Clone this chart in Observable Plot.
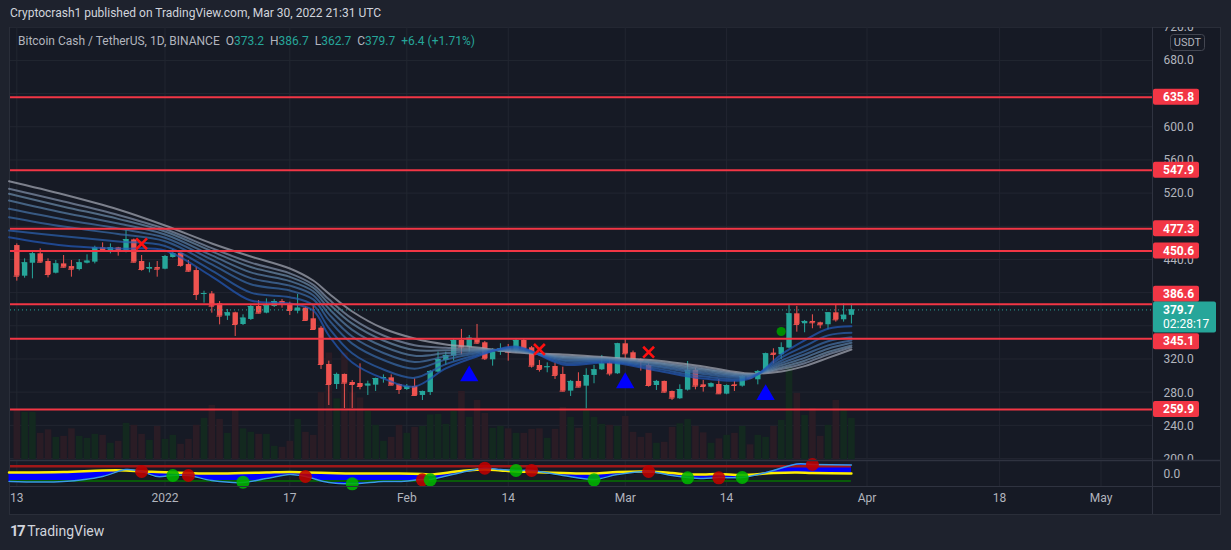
<!DOCTYPE html>
<html><head><meta charset="utf-8">
<script src="https://cdn.jsdelivr.net/npm/d3@7"></script>
<script src="https://cdn.jsdelivr.net/npm/@observablehq/plot@0.6"></script>
<style>
html,body{margin:0;padding:0;background:#1e222d;}
#wrap{position:relative;width:1231px;height:550px;overflow:hidden;background:#1e222d;font-family:Roboto,"Liberation Sans",sans-serif;}
#chartbg{position:absolute;left:9px;top:27px;width:1212px;height:488px;box-sizing:border-box;background:#161a25;border:1px solid #2a2e39;}
.layer{position:absolute;left:0;top:0;}
#header{position:absolute;left:0;top:0;width:1231px;height:27px;background:#1e222d;z-index:5;}
#header span{position:absolute;left:10px;top:6px;font-size:12px;color:#d1d4dc;white-space:pre;}
#legend{position:absolute;left:18px;top:34px;font-size:12px;color:#b2b5be;white-space:pre;z-index:4;}
#legend .v{color:#26a69a;}
#footer{position:absolute;left:10px;top:521px;height:20px;color:#d1d4dc;z-index:4;white-space:pre;}
#footer .logo{font-weight:bold;font-size:15px;letter-spacing:-1.5px;}
#footer .name{font-size:14px;margin-left:3px;}
</style></head>
<body>
<div id="wrap">
  <div id="chartbg"></div>
  <div id="header"><span>Cryptocrash1 published on TradingView.com, Mar 30, 2022 21:31 UTC</span></div>
  <div id="legend"></div>
  <div id="footer"><span class="logo">17</span><span class="name">TradingView</span></div>
</div>
<script>
// ---------------- data ----------------
const firstDay = "2021-12-13";
const opens = [457.2,420.3,435.9,447.2,438.0,423.9,435.1,431.9,428.3,435.9,
437.2,454.4,450.4,454.4,450.4,464.0,438.0,428.7,430.7,428.7,
442.8,447.6,434.3,427.1,398.6,399.0,387.0,372.2,376.2,362.1,
368.2,383.8,375.8,383.8,389.8,387.0,378.2,381.8,369.0,357.7,
314.0,289.9,302.0,292.3,291.1,287.9,289.1,296.7,297.9,289.9,
283.9,287.5,276.7,280.3,304.8,318.8,324.1,342.9,334.9,344.9,
340.1,319.6,328.9,332.9,330.1,342.9,334.1,312.8,310.4,311.6,
302.0,281.9,293.6,287.9,300.8,307.6,315.6,302.8,338.9,328.1,
319.6,312.8,288.7,293.6,281.5,272.7,283.1,306.8,289.5,286.7,
289.9,278.3,289.5,287.9,300.0,295.6,304.8,327.7,325.7,333.7,
375.0,363.0,365.8,364.2,361.8,376.2,367.8,373.2];
const highs = [459.2,441.2,449.2,453.2,441.2,439.2,445.2,439.2,440.4,446.0,
456.4,460.4,459.2,455.0,475.3,465.0,445.2,436.4,438.0,445.2,
452.4,448.0,439.2,431.1,402.2,401.8,389.8,380.2,377.0,373.8,
385.0,391.0,393.0,392.2,392.2,389.0,398.3,383.0,384.2,359.7,
318.0,303.6,302.5,294.7,314.8,293.9,297.5,301.5,301.5,290.3,
289.9,296.7,282.0,306.8,328.9,328.9,344.9,356.2,348.9,362.2,
341.7,332.9,338.9,338.1,344.1,344.1,335.7,318.8,316.0,315.6,
310.8,294.8,304.0,308.8,312.8,324.9,320.8,339.5,344.1,330.1,
320.8,314.8,294.8,294.0,282.0,289.5,317.6,309.6,294.8,291.9,
295.9,289.5,293.6,300.8,300.8,306.8,327.7,332.9,340.1,385.9,
383.9,367.0,373.8,365.0,376.5,385.1,387.1,386.7];
const lows = [414.3,417.9,417.1,436.0,418.3,423.0,430.0,419.1,426.7,435.1,
435.1,449.2,447.2,444.4,448.4,436.0,426.3,424.3,419.1,428.0,
442.0,431.1,425.1,391.0,387.8,375.8,361.7,367.0,347.7,360.9,
367.0,375.0,375.0,382.6,381.8,373.0,375.0,365.8,355.0,308.0,
264.6,283.9,261.0,261.0,283.5,276.7,281.5,291.5,288.7,277.9,
282.7,275.5,270.6,276.7,304.0,312.8,318.0,325.7,328.9,338.1,
318.8,312.0,324.9,318.0,327.7,330.1,309.6,304.8,304.0,296.0,
281.0,275.5,286.0,260.6,290.8,306.8,300.0,302.0,320.8,318.0,
306.0,286.7,282.7,279.5,270.7,272.0,282.0,283.5,280.7,285.9,
277.9,277.5,281.5,286.7,296.0,289.5,304.0,314.8,320.0,333.0,
352.9,352.2,357.0,357.0,355.8,365.0,365.0,362.7];
const closes = [420.3,436.4,447.2,437.2,422.3,435.1,431.1,428.7,436.4,438.4,
454.4,450.4,454.4,451.2,464.4,437.2,428.3,430.7,428.7,444.0,
447.6,433.1,426.3,398.2,399.4,384.2,372.2,376.2,362.1,369.8,
383.8,375.8,385.0,389.8,386.2,379.0,381.8,367.0,356.1,314.0,
289.9,302.0,291.5,289.9,287.5,290.3,297.1,298.3,289.1,283.9,
287.5,276.7,281.5,305.6,320.0,324.9,342.9,334.9,345.7,339.7,
320.9,328.9,332.9,328.9,342.9,332.9,312.0,308.0,311.2,300.8,
281.9,293.6,286.7,300.8,307.6,314.8,302.8,338.9,326.9,318.8,
318.0,288.7,293.6,280.7,273.5,283.9,306.8,287.9,287.5,290.7,
278.7,288.7,288.7,299.6,297.6,305.6,326.9,326.1,334.1,375.0,
362.2,365.8,364.2,361.8,376.2,367.8,373.3,379.7];
// volume, thousand BCH (estimated)
const volumes = [99,95,95,53,60,45,47,62,47,43,
51,49,33,37,73,69,51,39,67,41,
49,31,41,69,83,109,81,53,99,62,
55,51,51,27,25,37,81,55,49,135,
214,122,214,135,124,97,69,37,45,69,
53,65,67,90,91,71,97,137,85,119,
93,63,67,62,53,53,61,62,43,61,
105,85,63,102,85,71,69,67,87,55,
45,53,33,35,65,72,81,67,54,33,
42,49,53,67,30,49,45,67,79,185,
133,89,103,47,69,119,102,83];

// horizontal support / resistance levels
const levels = [635.8, 547.9, 477.3, 450.6, 386.6, 345.1, 259.9];
const gridPrices = [200,240,280,320,360,400,440,480,520,560,600,640,680,720];
const priceTicks = [720,680,600,560,520,440,320,280,240,200];

// time axis
const tickDates = ["2021-12-13","2022-01-01","2022-01-17","2022-02-01","2022-02-14","2022-03-01","2022-03-14","2022-04-01","2022-04-18","2022-05-01"];
const tickLabels = ["13","2022","17","Feb","14","Mar","14","Apr","18","May"];

// EMA ribbon (read at sample dates), fast -> slow
const ribbonDates = ["2021-12-12","2021-12-19","2021-12-26","2022-01-01","2022-01-07","2022-01-12","2022-01-17","2022-01-20","2022-01-22","2022-01-25","2022-01-29","2022-02-02","2022-02-06","2022-02-10","2022-02-15","2022-02-21","2022-02-27","2022-03-05","2022-03-11","2022-03-17","2022-03-21","2022-03-24","2022-03-27","2022-03-30"];
const ribbon1 = [467.2,457.3,453.6,451.2,419.9,391.0,387.4,379.0,348.9,316.4,297.1,287.5,309.2,323.6,335.7,314.0,316.4,306.8,297.1,297.1,326.0,343.0,357.0,360.0];
const ribbon2 = [475.3,468.4,462.1,456.6,427.1,400.5,395.0,385.5,358.0,327.5,307.9,297.9,314.4,325.5,334.4,316.2,317.5,309.0,299.7,298.2,322.3,336.0,349.0,352.1];
const ribbon3 = [491.3,480.0,471.0,462.3,434.6,410.6,403.0,392.4,367.6,339.1,319.4,308.9,319.9,327.6,333.0,318.4,318.6,311.2,302.5,299.3,318.5,330.0,342.0,346.8];
const ribbon4 = [501.4,488.6,477.6,466.6,440.2,418.0,408.9,397.4,374.7,347.7,327.8,317.0,323.9,329.1,332.0,320.1,319.5,312.9,304.5,300.2,315.6,326.0,337.0,342.9];
const ribbon5 = [511.4,496.6,483.7,470.5,445.4,424.9,414.4,402.1,381.3,355.7,335.6,324.5,327.7,330.5,331.0,321.7,320.2,314.5,306.4,300.9,313.0,322.0,333.0,340.1];
const ribbon6 = [519.5,504.0,489.3,474.1,450.2,431.3,419.5,406.4,387.4,363.1,342.9,331.4,331.2,331.8,330.2,323.1,321.0,315.9,308.1,301.7,310.5,318.5,329.0,336.9];
const ribbon7 = [525.5,510.1,494.0,477.1,454.1,436.6,423.7,410.0,392.4,369.2,348.9,337.2,334.1,332.9,329.4,324.3,321.6,317.1,309.6,302.3,308.5,315.5,326.0,334.8];
const ribbon8 = [534.7,518.7,500.6,481.3,459.7,444.0,429.6,415.1,399.5,377.8,357.3,345.3,338.1,334.4,328.4,326.0,322.4,318.8,311.6,303.1,305.6,312.0,322.0,332.0];
const ribbonColors = ["#2259b8","#2b61b0","#3769a8","#4572a6","#577ea6","#6a89a8","#808fa7","#a3a8b4"];

// signal markers
const crossDates = ["2021-12-29","2022-02-18","2022-03-04"];
const crossPrices = [459.3, 332.1, 328.8];
const triangleDates = ["2022-02-09","2022-03-01","2022-03-19"];
const trianglePrices = [300.1, 291.8, 277.6];
const circleDates = ["2022-03-21"];
const circlePrices = [353.7];

// oscillator (read at sample dates)
const oscDates = ["2021-12-12","2021-12-19","2021-12-24","2021-12-27","2021-12-29","2021-12-31","2022-01-02","2022-01-04","2022-01-07","2022-01-11","2022-01-14","2022-01-17","2022-01-19","2022-01-22","2022-01-25","2022-01-29","2022-01-31","2022-02-03","2022-02-04","2022-02-08","2022-02-11","2022-02-13","2022-02-15","2022-02-17","2022-02-21","2022-02-25","2022-02-28","2022-03-04","2022-03-07","2022-03-09","2022-03-11","2022-03-13","2022-03-16","2022-03-20","2022-03-23","2022-03-25","2022-03-30"];
const oscFast = [-57.6,-57.6,-19.2,34.6,19.2,-19.2,-11.5,-11.5,-49.9,-65.3,-34.6,-3.8,-19.2,-65.3,-75.3,-57.6,-57.6,-42.2,-42.2,11.5,44.5,34.6,26.9,26.9,-11.5,-42.2,-3.8,19.2,-11.5,-26.9,-34.6,-26.9,-26.9,26.9,76.8,73.0,69.1];
const oscSlow = [11.5,15.4,26.9,26.9,19.2,15.4,11.5,7.7,3.8,7.7,11.5,15.4,11.5,7.7,3.8,3.8,3.8,0,-3.8,23.0,34.6,26.9,19.2,15.4,7.7,3.8,15.4,19.2,7.7,-3.8,-3.8,0,-7.7,7.7,11.5,7.7,3.8];
const oscDotDates = ["2021-12-29","2022-01-02","2022-01-04","2022-01-11","2022-01-19","2022-01-25","2022-02-03","2022-02-04","2022-02-11","2022-02-15","2022-02-17","2022-02-25","2022-03-04","2022-03-09","2022-03-13","2022-03-16","2022-03-25"];
const oscDotValues = [19.2,-11.5,-11.5,-63,-19.2,-75.3,-44.5,-44.5,44.5,26.9,26.9,-44.5,19.2,-29.2,-29.2,-26.9,73.0];
const oscDotKinds = ["down","up","down","up","down","up","down","up","down","up","down","up","down","up","down","up","down"];

// ---------------- build ----------------
const FONT = "Roboto, 'Liberation Sans', sans-serif";
const parse = d3.utcParse("%Y-%m-%d");
const dayMs = 864e5;
const start = parse(firstDay);
const xDomain = [new Date(+start - 0.81 * dayMs), new Date(+start + 145.6 * dayMs)];
const up = "#26a69a", down = "#ef5350";

const candles = opens.map((o, k) => ({
  date: d3.utcDay.offset(start, k), open: o, high: highs[k], low: lows[k], close: closes[k], volume: volumes[k]
}));
const colorOf = d => d.close >= d.open ? up : down;
const last = candles[candles.length - 1];
const prev = candles[candles.length - 2];

const ticks = tickDates.map((d, k) => ({date: parse(d), label: tickLabels[k]}));
const ribbons = [ribbon1, ribbon2, ribbon3, ribbon4, ribbon5, ribbon6, ribbon7, ribbon8];
const ribbonRows = [];
for (let k = ribbons.length - 1; k >= 0; k--) {
  ribbonDates.forEach((d, j) => ribbonRows.push({date: parse(d), value: ribbons[k][j], line: k}));
}
const crosses = crossDates.map((d, k) => ({date: parse(d), price: crossPrices[k]}));
const triangles = triangleDates.map((d, k) => ({date: parse(d), price: trianglePrices[k]}));
const circles = circleDates.map((d, k) => ({date: parse(d), price: circlePrices[k]}));
const osc = oscDates.map((d, k) => ({date: parse(d), fast: oscFast[k], slow: oscSlow[k]}));
const oscDots = oscDotDates.map((d, k) => ({date: parse(d), value: oscDotValues[k], kind: oscDotKinds[k]}));

const W = 1231, H = 550;
const common = {
  width: W, height: H, marginLeft: 10, marginRight: 79,
  style: {background: "transparent", fontFamily: FONT, fontSize: "12px", overflow: "visible"}
};
const xOpt = {type: "utc", domain: xDomain, axis: null};

// volume layer (with grid)
const volPlot = Plot.plot({
  ...common, marginTop: 27, marginBottom: 90.7,
  x: xOpt, y: {domain: [0, 866], axis: null},
  marks: [
    Plot.ruleY(gridPrices.map(p => (p - 198.4) / 521.3 * 866), {stroke: "#222631", strokeWidth: 1}),
    Plot.ruleX(ticks, {x: "date", stroke: "#222631", strokeWidth: 1}),
    Plot.ruleX(candles, {x: "date", y1: 0, y2: "volume", strokeWidth: 6.6,
      stroke: d => d.close >= d.open ? "#13291f" : "#2a1c25"})
  ]
});

// main price layer
const main = Plot.plot({
  ...common, marginTop: 27, marginBottom: 90,
  x: xOpt, y: {domain: [198.4, 719.7], axis: null},
  marks: [
    Plot.ruleX(candles, {x: "date", y1: "low", y2: "high", stroke: colorOf, strokeWidth: 1}),
    Plot.ruleX(candles, {x: "date", y1: "open", y2: "close", stroke: colorOf, strokeWidth: 5.4}),
    Plot.ruleY(candles, {y: "close", x1: d => new Date(+d.date - 0.35 * dayMs), x2: d => new Date(+d.date + 0.35 * dayMs), stroke: colorOf, strokeWidth: 1}),
    Plot.line(ribbonRows, {x: "date", y: "value", z: "line", stroke: d => ribbonColors[d.line],
      strokeWidth: 2, strokeOpacity: 0.72, curve: "catmull-rom"}),
    Plot.ruleY(levels, {stroke: "#f23645", strokeWidth: 2}),
    Plot.ruleY([last.close], {stroke: "#26a69a", strokeWidth: 1, strokeDasharray: "1,3"}),
    Plot.dot(crosses, {x: "date", y: "price", symbol: "times", r: 5, stroke: "#ff1010", strokeWidth: 2.6}),
    Plot.dot(triangles, {x: "date", y: "price", symbol: "triangle", r: 6.8, fill: "#0000ff", stroke: "none"}),
    Plot.dot(circles, {x: "date", y: "price", r: 4.6, fill: "#008c00", stroke: "none"}),
    Plot.text(priceTicks, {y: d => d, text: d => d.toFixed(1), frameAnchor: "right", dx: 11,
      textAnchor: "start", fill: "#b2b5be", fontSize: 12})
  ]
});

// oscillator layer + time axis
const oscPlot = Plot.plot({
  ...common, marginTop: 461, marginBottom: 64,
  x: xOpt, y: {domain: [-96, 96], axis: null},
  marks: [
    Plot.ruleX(ticks, {x: "date", stroke: "#222631", strokeWidth: 1}),
    Plot.areaY(osc, {x: "date", y1: "fast", y2: d => d.fast - 14, fill: "#000000", fillOpacity: 0.75, curve: "catmull-rom"}),
    Plot.areaY(osc, {x: "date", y1: "slow", y2: "fast", fill: "#0000ff", curve: "catmull-rom"}),
    Plot.ruleY([60], {x1: xDomain[0], x2: last.date, stroke: "#a01818", strokeWidth: 2.5}),
    Plot.ruleY([-53], {x1: xDomain[0], x2: last.date, stroke: "#0a5a0a", strokeWidth: 2}),
    Plot.line(osc, {x: "date", y: "slow", stroke: "#ffee00", strokeWidth: 2.5, curve: "catmull-rom"}),
    Plot.line(osc, {x: "date", y: "fast", stroke: "#3a9ae8", strokeWidth: 1.5, curve: "catmull-rom"}),
    Plot.dot(oscDots, {x: "date", y: "value", r: 6.5, stroke: "none",
      fill: d => d.kind === "up" ? "#00b400" : "#c00000", fillOpacity: 0.88}),
    Plot.text([0], {y: d => d, text: d => d.toFixed(1), frameAnchor: "right", dx: 11,
      textAnchor: "start", fill: "#b2b5be", fontSize: 12}),
    Plot.text(ticks, {x: "date", text: "label", frameAnchor: "bottom", dy: 15, fill: "#b2b5be", fontSize: 12})
  ]
});

const wrap = document.getElementById("wrap");
const header = document.getElementById("header");
[volPlot, main, oscPlot].forEach(svg => { svg.style.position = "absolute"; svg.style.left = "0"; svg.style.top = "0"; wrap.insertBefore(svg, header); });

// pane background for oscillator (covers bottom of price scale) + separators
d3.select(oscPlot).insert("rect", ":first-child")
  .attr("x", 10).attr("y", 460).attr("width", 1210).attr("height", 26).attr("fill", "#161a25");
const sep = d3.select(oscPlot).append("g").attr("stroke", "#2f3340");
sep.append("line").attr("x1", 10).attr("x2", 1220).attr("y1", 460.5).attr("y2", 460.5).attr("stroke-width", 1.5);
sep.append("line").attr("x1", 10).attr("x2", 1220).attr("y1", 486.5).attr("y2", 486.5);
sep.append("line").attr("x1", 1152.5).attr("x2", 1152.5).attr("y1", 27).attr("y2", 514);

// price-scale label boxes (TradingView nudges colliding labels apart)
const ys = main.scale("y");
const nudge = {"386.6": -10, "345.1": 3};
const g = d3.select(main).append("g").attr("font-family", FONT).attr("font-size", 12).attr("text-anchor", "start");
levels.forEach(v => {
  const py = ys.apply(v) + (nudge[v.toFixed(1)] || 0);
  g.append("rect").attr("x", 1153).attr("y", py - 8).attr("width", 46).attr("height", 16).attr("rx", 2).attr("fill", "#f23645");
  g.append("text").attr("x", 1163).attr("y", py).attr("dy", "0.35em").attr("fill", "#ffffff").attr("font-weight", "bold").text(v.toFixed(1));
});
const pc = ys.apply(last.close);
g.append("rect").attr("x", 1153).attr("y", pc - 8).attr("width", 63).attr("height", 31).attr("rx", 2).attr("fill", "#26a69a");
g.append("text").attr("x", 1163).attr("y", pc).attr("dy", "0.35em").attr("fill", "#ffffff").attr("font-weight", "bold").text(last.close.toFixed(1));
g.append("text").attr("x", 1163).attr("y", pc + 14).attr("dy", "0.35em").attr("fill", "#ffffff").text("02:28:17");
g.append("rect").attr("x", 1170.5).attr("y", 34.5).attr("width", 34).attr("height", 16).attr("rx", 3).attr("fill", "#161a25").attr("stroke", "#434651");
g.append("text").attr("x", 1187.5).attr("y", 42.5).attr("dy", "0.35em").attr("text-anchor", "middle").attr("fill", "#b2b5be").attr("font-size", 11).text("USDT");

// legend built from the last candle
const chg = last.close - prev.close;
const pct = chg / prev.close * 100;
document.getElementById("legend").innerHTML =
  `Bitcoin Cash / TetherUS, 1D, BINANCE  O<span class="v">${last.open.toFixed(1)}</span>  H<span class="v">${last.high.toFixed(1)}</span>  L<span class="v">${last.low.toFixed(1)}</span>  C<span class="v">${last.close.toFixed(1)}</span>  <span class="v">${chg >= 0 ? "+" : ""}${chg.toFixed(1)} (${pct >= 0 ? "+" : ""}${pct.toFixed(2)}%)</span>`;
</script>
</body></html>
